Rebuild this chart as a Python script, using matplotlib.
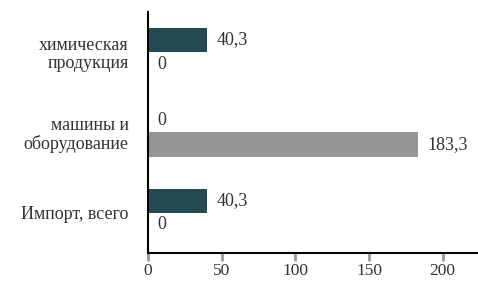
import matplotlib
matplotlib.use("Agg")
from matplotlib import pyplot as plt
import numpy as np

# data
categories = ["химическая\nпродукция", "машины и\nоборудование", "Импорт, всего"]
series_dark = [40.3, 0, 40.3]
series_gray = [0, 183.3, 0]
x_ticks = [0, 50, 100, 150, 200]

dark_color = "#264a52"
gray_color = "#959595"
text_color = "#333333"

plt.rcParams['font.family'] = ['Liberation Serif', 'DejaVu Serif']

fig = plt.figure(figsize=(4.78, 2.84), dpi=100)
ax = fig.add_axes([0.3096, 0.109, 0.6904, 0.849])

pos = np.arange(len(categories))
h = 0.3
ax.barh(pos - h / 2, series_dark, height=h, color=dark_color)
ax.barh(pos + h / 2, series_gray, height=h, color=gray_color)

# value labels
for p, v in zip(pos, series_dark):
    ax.annotate(f"{v:g}".replace(".", ","), (v, p - h / 2), xytext=(7, 0),
                textcoords="offset points", va="center", ha="left",
                fontsize=13, color=text_color)
for p, v in zip(pos, series_gray):
    ax.annotate(f"{v:g}".replace(".", ","), (v, p + h / 2), xytext=(7, 0),
                textcoords="offset points", va="center", ha="left",
                fontsize=13, color=text_color)

ax.set_ylim(2.5, -0.5)
ax.set_xlim(0, 224)
ax.set_yticks(pos)
ax.set_yticklabels(categories, fontsize=13, color=text_color, linespacing=1.1)
ax.tick_params(axis="y", length=0, pad=14)
ax.set_xticks(x_ticks)
# labels sit a bit higher than in the reference so they are not cut off
ax.tick_params(axis="x", length=6, width=2, color="#999999", pad=1.5,
               labelsize=12.5, labelcolor=text_color)

for s in ["top", "right"]:
    ax.spines[s].set_visible(False)
ax.spines["left"].set_linewidth(1.5)
ax.spines["bottom"].set_linewidth(1.5)

fig.savefig("out.png", dpi=100)
